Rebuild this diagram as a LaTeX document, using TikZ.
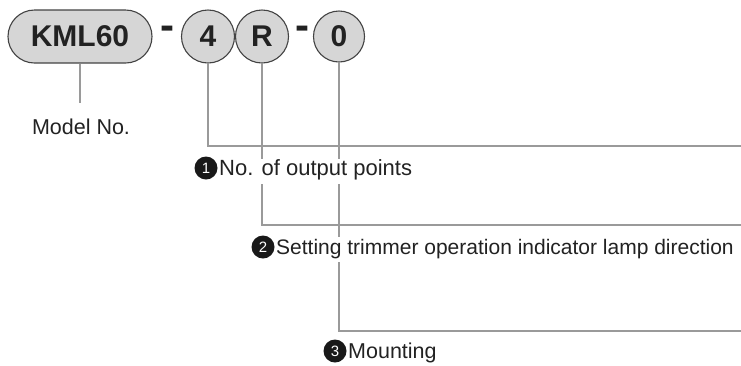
\documentclass[tikz,border=0pt]{standalone}
\usepackage{fontspec}
\setmainfont{Liberation Sans}
\definecolor{linegray}{HTML}{9A9A9A}
\definecolor{pillfill}{HTML}{D6D6D6}
\definecolor{ink}{HTML}{222222}
\begin{document}
\begin{tikzpicture}[x=1pt,y=-1pt,
  part/.style={draw=ink!85,line width=1.1pt,fill=pillfill,inner sep=0pt,
     font=\bfseries\fontsize{30}{30}\selectfont,text=ink},
  circ/.style={part,circle,minimum size=53pt},
  link/.style={draw=linegray,line width=2pt},
  label/.style={anchor=base west,fill=white,inner xsep=1pt,inner ysep=0pt,
     text height=17pt,text depth=8pt,text=ink,font=\fontsize{21.5}{24}\selectfont},
  badge/.style={circle,fill=black!90,text=white,inner sep=0pt,minimum size=23pt,
     font=\fontsize{15}{15}\selectfont},
  dashsym/.style={text=ink,inner sep=0pt,font=\bfseries\fontsize{42}{42}\selectfont}
]
\useasboundingbox (0,0) rectangle (741,365);
% parts
\node[part,rounded corners=26.5pt,minimum width=144pt,minimum height=53pt] (kml) at (80,36.5) {KML60};
\node[circ] (p4) at (208,36.5) {4};
\node[circ] (pR) at (262,36.5) {R};
\node[circ,minimum size=51pt] (p0) at (339,36.5) {0};
\node[dashsym] (d1) at (167.5,33) {-};
\node[dashsym] (d2) at (302,33) {-};
% connectors
\coordinate (mEnd) at (80,103);
\coordinate (c4) at (208,146);
\coordinate (e4) at (741,146);
\coordinate (cR) at (262,225);
\coordinate (eR) at (741,225);
\coordinate (c0) at (339,331);
\coordinate (e0) at (741,331);
\draw[link] (kml.south) -- (mEnd);
\draw[link] (p4.south) -- (c4) -- (e4);
\draw[link] (pR.south) -- (cR) -- (eR);
\draw[link] (p0.south) -- (c0) -- (e0);
% labels
\node[anchor=base,text=ink,font=\fontsize{21.5}{24}\selectfont] (model) at (81,134) {Model No.};
\node[label,font=\fontsize{22}{24}\selectfont] (t1) at (218,175.5) {No. of output points};
\node[badge] (b1) at (206,168) {1};
\node[label,font=\fontsize{21}{24}\selectfont] (t2) at (275,254) {Setting trimmer operation indicator lamp direction};
\node[badge] (b2) at (263,247) {2};
\node[label] (t3) at (347,358) {Mounting};
\node[badge] (b3) at (335,351) {3};
\end{tikzpicture}
\end{document}
